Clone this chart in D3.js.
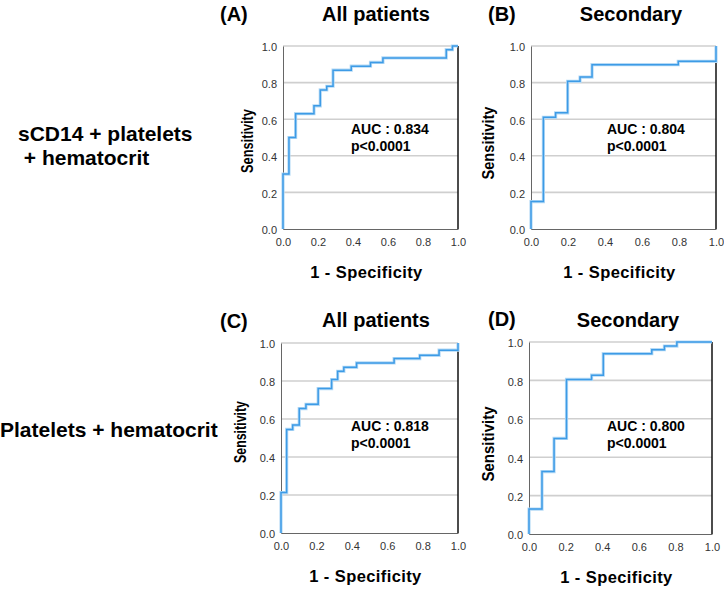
<!DOCTYPE html>
<html>
<head>
<meta charset="utf-8">
<style>
body { margin: 0; background: #fff; }
svg { display: block; font-family: "Liberation Sans", Arial, sans-serif; }
.tick text { fill: #333; font-size: 11px; }
.grid line { stroke: #cfcfcf; stroke-width: 1.6px; }
</style>
</head>
<body>
<svg id="chart" width="724" height="590"></svg>
<script src="https://cdn.jsdelivr.net/npm/d3@7/dist/d3.min.js"></script>
<script>
// ROC step points (1 - specificity, sensitivity)
var fprA = [0, 0, 0.034, 0.072, 0.177, 0.213, 0.25, 0.286, 0.39, 0.50, 0.571, 0.933, 0.968, 1.0];
var tprA = [0, 0.30, 0.50, 0.63, 0.673, 0.76, 0.78, 0.868, 0.89, 0.91, 0.935, 0.98, 1.0, 1.0];

var fprB = [0, 0, 0.067, 0.133, 0.198, 0.265, 0.33, 0.796, 1.0];
var tprB = [0, 0.15, 0.61, 0.635, 0.807, 0.83, 0.898, 0.916, 1.0];

var fprC = [0, 0, 0.032, 0.066, 0.103, 0.141, 0.21, 0.286, 0.32, 0.355, 0.427, 0.639, 0.784, 0.893, 1.0];
var tprC = [0, 0.213, 0.545, 0.568, 0.655, 0.677, 0.76, 0.808, 0.851, 0.872, 0.895, 0.918, 0.935, 0.962, 1.0];

var fprD = [0, 0, 0.071, 0.137, 0.205, 0.342, 0.406, 0.671, 0.74, 0.808, 1.0];
var tprD = [0, 0.13, 0.325, 0.498, 0.805, 0.827, 0.939, 0.96, 0.979, 1.0, 1.0];

var tickValues = [0, 0.2, 0.4, 0.6, 0.8, 1.0];
var panelLetters = ["(A)", "(B)", "(C)", "(D)"];
var panelTitles = ["All patients", "Secondary", "All patients", "Secondary"];
var aucLabels = ["AUC : 0.834", "AUC : 0.804", "AUC : 0.818", "AUC : 0.800"];
var pLabels = ["p<0.0001", "p<0.0001", "p<0.0001", "p<0.0001"];
var rowLabels = [["sCD14 + platelets", " + hematocrit"], ["Platelets + hematocrit"]];

var svg = d3.select("#chart");

// panel frames
var panels = [
  {fpr: fprA, tpr: tprA, l: 283, r: 458, t: 46, b: 229, letterX: 220, letterY: 21, titleX: 376, titleY: 21, sensX: 247, sensY: 141, sensLen: 64, xlabY: 278, aucX: 351, aucY: 134},
  {fpr: fprB, tpr: tprB, l: 531, r: 716, t: 46, b: 229, letterX: 488, letterY: 21, titleX: 631, titleY: 21, sensX: 488, sensY: 143, sensLen: 73, xlabY: 278, aucX: 607, aucY: 134},
  {fpr: fprC, tpr: tprC, l: 281, r: 458, t: 343, b: 533, letterX: 220, letterY: 328, titleX: 376, titleY: 327, sensX: 240, sensY: 432, sensLen: 62, xlabY: 582, aucX: 351, aucY: 431},
  {fpr: fprD, tpr: tprD, l: 529, r: 712, t: 342, b: 534, letterX: 488, letterY: 326, titleX: 628, titleY: 327, sensX: 488, sensY: 444, sensLen: 75, xlabY: 583, aucX: 607, aucY: 431}
];

panels.forEach(function(p, i) {
  var x = d3.scaleLinear().domain([0, 1]).range([p.l, p.r]);
  var y = d3.scaleLinear().domain([0, 1]).range([p.b, p.t]);
  var g = svg.append("g");

  // horizontal gridlines
  g.append("g").attr("class", "grid")
    .selectAll("line")
    .data(tickValues.slice(1))
    .enter().append("line")
    .attr("x1", p.l).attr("x2", p.r)
    .attr("y1", function(d) { return y(d); })
    .attr("y2", function(d) { return y(d); });

  // axes
  var yAxis = g.append("g")
    .attr("transform", "translate(" + p.l + ",0)")
    .call(d3.axisLeft(y).tickValues(tickValues).tickFormat(d3.format(".1f")).tickSize(0).tickPadding(6));
  yAxis.select(".domain").attr("stroke", "#666");
  yAxis.selectAll(".tick text").attr("dy", "0.45em");

  var xAxis = g.append("g")
    .attr("transform", "translate(0," + p.b + ")")
    .call(d3.axisBottom(x).tickValues(tickValues).tickFormat(d3.format(".1f")).tickSize(0).tickPadding(9));
  xAxis.select(".domain").attr("stroke", "#666");

  // right border
  g.append("line")
    .attr("x1", x(1)).attr("x2", x(1))
    .attr("y1", y(0)).attr("y2", y(1))
    .attr("stroke", "#111").attr("stroke-width", 1.5);

  // ROC curve
  var pts = p.fpr.map(function(f, k) { return [f, p.tpr[k]]; });
  var line = d3.line()
    .x(function(d) { return x(d[0]); })
    .y(function(d) { return y(d[1]); })
    .curve(d3.curveStepAfter);
  g.append("path").attr("d", line(pts))
    .attr("fill", "none").attr("stroke", "#b5daf6").attr("stroke-width", 3.2);
  g.append("path").attr("d", line(pts))
    .attr("fill", "none").attr("stroke", "#3d9be6").attr("stroke-width", 1.5);

  // labels
  g.append("text").attr("x", p.letterX).attr("y", p.letterY)
    .attr("font-size", 20).attr("font-weight", "bold").text(panelLetters[i]);
  g.append("text").attr("x", p.titleX).attr("y", p.titleY)
    .attr("text-anchor", "middle")
    .attr("font-size", 20).attr("font-weight", "bold").text(panelTitles[i]);
  g.append("text")
    .attr("transform", "translate(" + (p.sensX + 6) + "," + p.sensY + ") rotate(-90)")
    .attr("text-anchor", "middle")
    .attr("font-size", 17).attr("font-weight", "bold")
    .attr("textLength", p.sensLen).attr("lengthAdjust", "spacingAndGlyphs")
    .text("Sensitivity");
  g.append("text").attr("x", (p.l + p.r) / 2 - 4).attr("y", p.xlabY)
    .attr("text-anchor", "middle")
    .attr("font-size", 16.5).attr("font-weight", "bold")
    .attr("letter-spacing", 0.4).text("1 - Specificity");
  g.append("text").attr("x", p.aucX).attr("y", p.aucY)
    .attr("font-size", 14).attr("font-weight", "bold").text(aucLabels[i]);
  g.append("text").attr("x", p.aucX).attr("y", p.aucY + 17)
    .attr("font-size", 14).attr("font-weight", "bold").text(pLabels[i]);
});

// row labels on the left
var rowBase = [[141, 165], [437]];
var rowX = [[18, 18], [0]];
rowLabels.forEach(function(lines, r) {
  lines.forEach(function(txt, k) {
    svg.append("text")
      .attr("x", rowX[r][k]).attr("y", rowBase[r][k])
      .attr("font-size", 21).attr("font-weight", "bold")
      .attr("xml:space", "preserve")
      .style("white-space", "pre")
      .text(txt);
  });
});
</script>
</body>
</html>
